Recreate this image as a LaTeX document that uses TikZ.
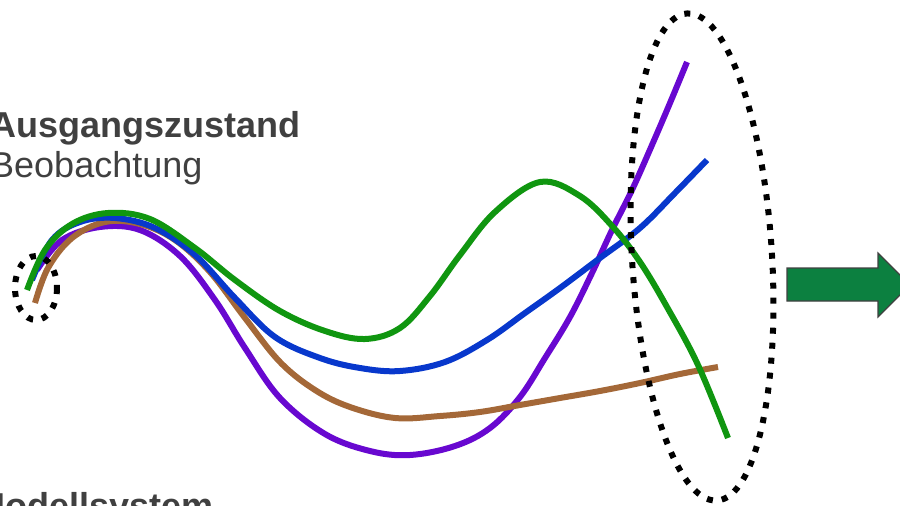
\documentclass[tikz,border=0pt]{standalone}
\usepackage{fontspec}
\setmainfont{Liberation Sans}
\usepackage{tikz}
\usetikzlibrary{positioning}

\definecolor{txtgray}{RGB}{64,64,64}
\definecolor{cgreen}{RGB}{16,150,16}
\definecolor{cblue}{RGB}{8,56,204}
\definecolor{cpurple}{RGB}{104,8,208}
\definecolor{cbrown}{RGB}{164,104,56}
\definecolor{arrgreen}{RGB}{12,128,64}

\begin{document}
\begin{tikzpicture}[
        x=1pt, y=-1pt,
        label/.style={anchor=base west, inner sep=0pt, text=txtgray, font=\fontsize{36}{40}\selectfont},
        traj/.style={line width=6pt, line cap=butt, line join=round},
        ring/.style={line width=6pt, dash pattern=on 6pt off 9pt},
        bigarrow/.style={fill=arrgreen, draw=black!75, line width=1.2pt, line join=miter}
    ]
        \useasboundingbox (0,0) rectangle (900,506);
        \clip (0,0) rectangle (900,506);

        % Texte
        \node[label, font=\fontsize{36}{40}\selectfont\bfseries] (start) at (-10,137) {Ausgangszustand};
        \node[label] (obs) at (-10,177) {Beobachtung};
        \node[label, font=\fontsize{36}{40}\selectfont\bfseries] (model) at (-25,518) {Modellsystem};

        % Trajektorien
        \draw[traj, cpurple] plot[smooth, tension=0.6] coordinates {(37,270) (62,240) (100,227) (140,230) (180,256) (215,300) (245,348) (280,398) (325,434) (370,451) (410,455) (455,446) (490,428) (520,397) (545,358) (570,317) (592,273) (612,230) (632,190) (652,145) (670,103) (687,62)};
        \draw[traj, cbrown] plot[smooth, tension=0.6] coordinates {(35,303) (48,268) (72,238) (105,222) (140,224) (175,240) (210,272) (245,318) (280,362) (315,390) (350,407) (395,418) (440,416) (480,412) (520,405) (560,398) (600,391) (640,383) (680,374) (718,367)};
        \draw[traj, cblue] plot[smooth, tension=0.6] coordinates {(32,280) (52,240) (80,222) (115,218) (155,228) (195,255) (235,298) (275,337) (320,358) (360,368) (400,371) (445,362) (487,340) (525,313) (560,288) (600,258) (640,228) (675,193) (707,160)};
        \draw[traj, cgreen] plot[smooth, tension=0.6] coordinates {(27,290) (45,250) (72,224) (108,213) (150,219) (195,248) (235,280) (280,311) (325,331) (365,339) (400,328) (430,296) (460,255) (495,212) (540,182) (580,196) (613,227) (640,262) (667,307) (698,365) (728,438)};

        % Markierungen
        \draw[ring] (36,288) ellipse [x radius=21, y radius=32];
        \draw[ring, rotate around={3.5:(702,257)}] (702,257) ellipse [x radius=70, y radius=244];

        % Pfeil
        \draw[bigarrow] (787,268) -- (878,268) -- (878,253) -- (910,285) -- (878,317) -- (878,301) -- (787,301) -- cycle;
    \end{tikzpicture}
\end{document}
